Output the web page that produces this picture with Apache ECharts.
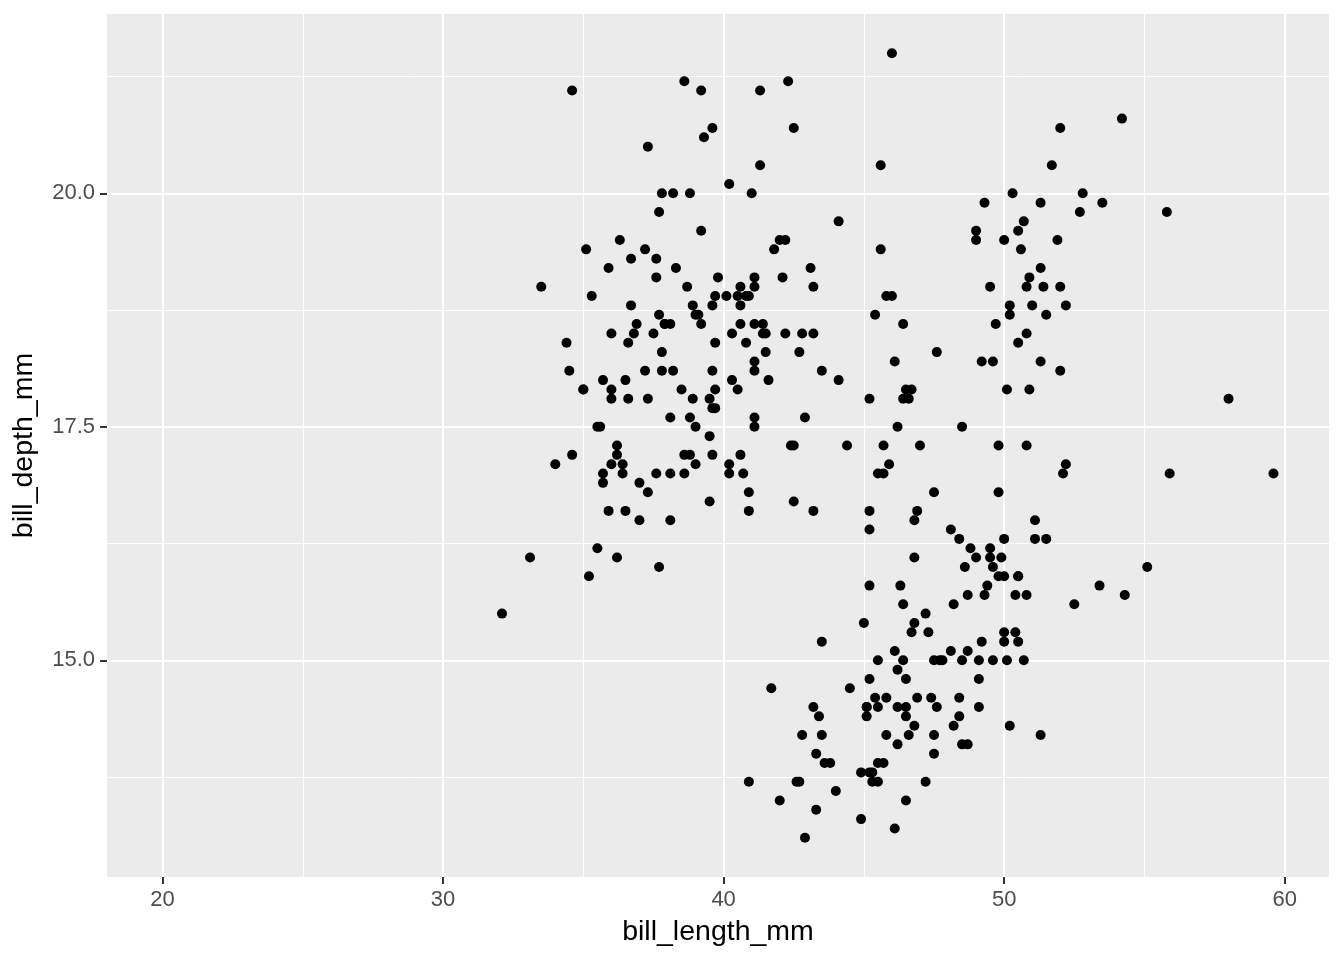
<!DOCTYPE html>
<html>
<head>
<meta charset="utf-8">
<script src="https://cdn.jsdelivr.net/npm/echarts@6/dist/echarts.min.js"></script>
<style>html,body{margin:0;padding:0;background:#fff}#chart{width:1344px;height:960px}</style>
</head>
<body>
<div id="chart"></div>
<script>
// Adelie
const adelieLength = [39.1,39.5,40.3,36.7,39.3,38.9,39.2,41.1,38.6,34.6,36.6,38.7,42.5,34.4,46.0,37.8,37.7,35.9,38.2,38.8,35.3,40.6,40.5,37.9,40.5,39.5,37.2,39.5,40.9,36.4,39.2,38.8,42.2,37.6,39.8,36.5,40.8,36.0,44.1,37.0,39.6,41.1,36.0,42.3,39.6,40.1,35.0,42.0,34.5,41.4,39.0,40.6,36.5,37.6,35.7,41.3,37.6,41.1,36.4,41.6,35.5,41.1,35.9,41.8,33.5,39.7,39.6,45.8,35.5,42.8,40.9,37.2,36.2,42.1,34.6,42.9,36.7,35.1,37.3,41.3,36.3,36.9,38.3,38.9,35.7,41.1,34.0,39.6,36.2,40.8,38.1,40.3,33.1,43.2,35.0,41.0,37.7,37.8,37.9,39.7,38.6,38.2,38.1,43.2,38.1,45.6,39.7,42.2,39.6,42.7,38.6,37.3,35.7,41.1,36.2,37.7,40.2,41.4,35.2,40.6,38.8,41.5,39.0,44.1,38.5,43.1,36.8,37.5,38.1,41.1,35.6,40.2,37.0,39.7,40.2,40.6,32.1,40.7,37.3,39.0,39.2,36.6,36.0,37.8,36.0,41.5];
const adelieDepth  = [18.7,17.4,18.0,19.3,20.6,17.8,19.6,17.6,21.2,21.1,17.8,19.0,20.7,18.4,21.5,18.3,18.7,19.2,18.1,17.2,18.9,18.6,17.9,18.6,18.9,16.7,18.1,17.8,18.9,17.0,21.1,20.0,18.5,19.3,19.1,18.0,18.4,18.5,19.7,16.9,18.8,19.0,17.9,21.2,17.7,18.9,17.9,19.5,18.1,18.6,17.5,18.8,16.6,19.1,16.9,21.1,17.0,18.2,17.1,18.0,16.2,19.1,16.6,19.4,19.0,18.4,17.2,18.9,17.5,18.5,16.8,19.4,16.1,19.1,17.2,17.6,18.8,19.4,17.8,20.3,19.5,18.6,19.2,18.8,18.0,18.1,17.1,18.1,17.3,18.9,18.6,18.5,16.1,18.5,17.9,20.0,16.0,20.0,18.6,18.9,17.2,20.0,17.0,19.0,16.5,20.3,17.7,19.5,20.7,18.3,17.0,20.5,17.0,18.6,17.2,19.8,17.0,18.5,15.9,19.0,17.6,18.3,17.1,18.0,17.9,19.2,18.5,18.5,17.6,17.5,17.5,20.1,16.5,17.9,17.1,17.2,15.5,17.0,16.8,18.7,18.6,18.4,17.8,18.1,17.1,18.5];
// Gentoo
const gentooLength = [46.1,50.0,48.7,50.0,47.6,46.5,45.4,46.7,43.3,46.8,40.9,49.0,45.5,48.4,45.8,49.3,42.0,49.2,46.2,48.7,50.2,45.1,46.5,46.3,42.9,46.1,47.8,48.2,50.0,47.3,42.8,45.1,59.6,49.1,48.4,42.6,44.4,44.0,48.7,42.7,49.6,45.3,49.6,50.5,43.6,45.5,50.5,44.9,45.2,46.6,48.5,45.1,50.1,46.5,45.0,43.8,45.5,43.2,50.4,45.3,46.2,45.7,54.3,45.8,49.8,49.5,43.5,50.7,47.7,46.4,48.2,46.5,46.4,48.6,47.5,51.1,45.2,45.2,49.1,52.5,47.4,50.0,44.9,50.8,43.4,51.3,47.5,52.1,47.5,52.2,45.5,49.5,44.5,50.8,49.4,46.9,48.4,51.1,48.5,55.9,47.2,49.1,46.8,41.7,53.4,43.3,48.1,50.5,49.8,43.5,51.5,46.2,55.1,48.8,47.2,46.8,50.4,45.2,49.9];
const gentooDepth  = [13.2,16.3,14.1,15.2,14.5,13.5,14.6,15.3,13.4,15.4,13.7,16.1,13.7,14.6,14.6,15.7,13.5,15.2,14.5,15.1,14.3,14.5,14.5,15.8,13.1,15.1,15.0,14.3,15.3,15.3,14.2,14.5,17.0,14.8,16.3,13.7,17.3,13.6,15.7,13.7,16.0,13.7,15.0,15.9,13.9,13.9,15.9,13.3,15.8,14.2,14.1,14.4,15.0,14.4,15.4,13.9,15.0,14.5,15.3,13.8,14.9,13.9,15.7,14.2,16.8,16.2,14.2,15.0,15.0,15.6,15.6,14.8,15.0,16.0,14.2,16.3,13.8,16.4,14.5,15.6,14.6,15.9,13.8,17.3,14.4,14.2,14.0,17.0,15.0,17.1,14.5,16.1,14.7,15.7,15.8,14.6,14.4,16.5,15.0,17.0,15.5,15.0,16.1,14.7,15.8,14.0,15.1,15.2,15.9,15.2,16.3,14.1,16.0,16.2,13.7,14.3,15.7,14.8,16.1];
// Chinstrap
const chinstrapLength = [46.5,50.0,51.3,45.4,52.7,45.2,46.1,51.3,46.0,51.3,46.6,51.7,47.0,52.0,45.9,50.5,50.3,58.0,46.4,49.2,42.4,48.5,43.2,50.6,46.7,52.0,50.5,49.5,46.4,52.8,40.9,54.2,42.5,51.0,49.7,47.5,47.6,52.0,46.9,53.5,49.0,46.2,50.9,45.5,50.9,50.8,50.1,49.0,51.5,49.8,48.1,51.4,45.7,50.7,42.5,52.2,45.2,49.3,50.2,45.6,51.9,46.8,45.7,55.8,43.5,49.6,50.8,50.2];
const chinstrapDepth  = [17.9,19.5,19.2,18.7,19.8,17.8,18.2,18.2,18.9,19.9,17.8,20.3,17.3,18.1,17.1,19.6,20.0,17.8,18.6,18.2,17.3,17.5,16.6,19.4,17.9,19.0,18.4,19.0,17.8,20.0,16.6,20.8,16.7,18.8,18.6,16.8,18.3,20.7,16.6,19.9,19.5,17.5,19.1,17.0,17.9,18.5,17.9,19.6,18.7,17.3,16.4,19.0,17.3,19.7,17.3,18.8,16.6,19.9,18.8,19.4,19.5,16.5,17.0,19.8,18.1,18.2,19.0,18.7];

const xMajor = [20, 30, 40, 50, 60];
const xMinor = [25, 35, 45, 55];
const yMajor = [15, 17.5, 20];
const yMinor = [13.75, 16.25, 18.75, 21.25];
const xTitle = 'bill_length_mm';
const yTitle = 'bill_depth_mm';

function zip(a, b) { return a.map((v, i) => [v, b[i]]); }

const FONT = '"Liberation Sans", Arial, sans-serif';
const xMin = 18.02, xMax = 61.58, yMin = 12.68, yMax = 21.92;

const chart = echarts.init(document.getElementById('chart'), null, { renderer: 'canvas' });
const pointStyle = { type: 'scatter', symbol: 'circle', symbolSize: 10, itemStyle: { color: '#000', opacity: 1 }, silent: true, animation: false };

chart.setOption({
  animation: false,
  backgroundColor: '#ffffff',
  grid: { left: 107, right: 15, top: 14, bottom: 83, show: true, backgroundColor: '#EBEBEB', borderWidth: 0 },
  xAxis: [
    {
      type: 'value', min: xMin, max: xMax, gridIndex: 0,
      axisLine: { show: false },
      axisTick: { show: true, length: 7, lineStyle: { color: '#333333', width: 2 }, customValues: xMajor },
      axisLabel: { customValues: xMajor, color: '#4D4D4D', fontSize: 22, fontFamily: FONT, margin: 12, formatter: v => String(v) },
      splitLine: { show: true, lineStyle: { color: '#FFFFFF', width: 2 } },
      name: xTitle, nameLocation: 'middle', nameGap: 41,
      nameTextStyle: { color: '#000000', fontSize: 28.5, fontFamily: FONT }
    },
    {
      type: 'value', min: xMin, max: xMax, gridIndex: 0, position: 'bottom',
      axisLine: { show: false }, axisTick: { show: false, customValues: xMinor },
      axisLabel: { show: false, customValues: xMinor },
      splitLine: { show: true, lineStyle: { color: '#FFFFFF', width: 1 } }
    }
  ],
  yAxis: [
    {
      type: 'value', min: yMin, max: yMax, gridIndex: 0,
      axisLine: { show: false },
      axisTick: { show: true, length: 7, lineStyle: { color: '#333333', width: 2 }, customValues: yMajor },
      axisLabel: { customValues: yMajor, color: '#4D4D4D', fontSize: 22, fontFamily: FONT, margin: 12, formatter: v => v.toFixed(1) },
      splitLine: { show: true, lineStyle: { color: '#FFFFFF', width: 2 } },
      name: yTitle, nameLocation: 'middle', nameGap: 68, nameRotate: 90,
      nameTextStyle: { color: '#000000', fontSize: 28.5, fontFamily: FONT }
    },
    {
      type: 'value', min: yMin, max: yMax, gridIndex: 0, position: 'left',
      axisLine: { show: false }, axisTick: { show: false, customValues: yMinor },
      axisLabel: { show: false, customValues: yMinor },
      splitLine: { show: true, lineStyle: { color: '#FFFFFF', width: 1 } }
    }
  ],
  series: [
    Object.assign({ name: 'Adelie', data: zip(adelieLength, adelieDepth) }, pointStyle),
    Object.assign({ name: 'Gentoo', data: zip(gentooLength, gentooDepth) }, pointStyle),
    Object.assign({ name: 'Chinstrap', data: zip(chinstrapLength, chinstrapDepth) }, pointStyle)
  ]
});
</script>
</body>
</html>
